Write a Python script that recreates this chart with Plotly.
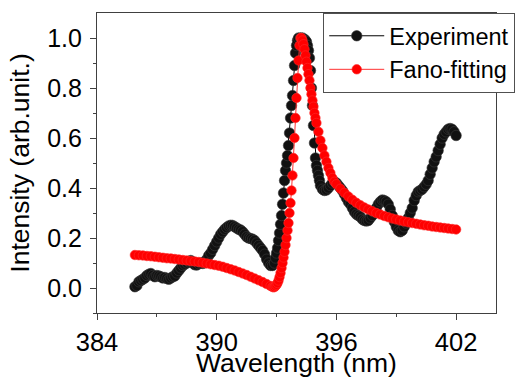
import plotly.graph_objects as go

# Experiment (wavelength nm, normalized intensity)
exp_x = [385.9, 386.0, 386.1, 386.2, 386.3, 386.4, 386.5, 386.6, 386.7, 386.8, 386.9,
         387.0, 387.1, 387.2, 387.3, 387.4, 387.5, 387.6, 387.7, 387.8, 387.9,
         388.0, 388.1, 388.2, 388.3, 388.4, 388.5, 388.6, 388.7, 388.8, 388.9,
         389.0, 389.1, 389.2, 389.3, 389.4, 389.5, 389.6, 389.7, 389.8, 389.9,
         390.0, 390.1, 390.2, 390.3, 390.4, 390.5, 390.6, 390.7, 390.8, 390.9,
         391.0, 391.1, 391.2, 391.3, 391.4, 391.5, 391.6, 391.7, 391.8, 391.9,
         392.0, 392.1, 392.2, 392.3, 392.4, 392.5, 392.6, 392.7, 392.8, 392.9,
         392.95, 393.0, 393.05, 393.1, 393.15, 393.2, 393.25, 393.3, 393.35, 393.4,
         393.45, 393.5, 393.55, 393.6, 393.65, 393.7, 393.75, 393.8, 393.85, 393.9,
         393.95, 394.0, 394.05, 394.1, 394.2, 394.3, 394.4, 394.45, 394.5, 394.55,
         394.6, 394.65, 394.7, 394.75, 394.8, 394.85, 394.9, 394.95, 395.0, 395.05,
         395.1, 395.15, 395.2, 395.3, 395.4, 395.5, 395.6, 395.7, 395.8, 395.9,
         396.0, 396.1, 396.2, 396.3, 396.4, 396.5, 396.6, 396.7, 396.8, 396.9,
         397.0, 397.1, 397.2, 397.3, 397.4, 397.5, 397.6, 397.7, 397.8, 397.9,
         398.0, 398.1, 398.2, 398.3, 398.4, 398.5, 398.6, 398.7, 398.8, 398.9,
         399.0, 399.1, 399.2, 399.3, 399.4, 399.5, 399.6, 399.7, 399.8, 399.9,
         400.0, 400.1, 400.2, 400.3, 400.4, 400.5, 400.6, 400.7, 400.8, 400.9,
         401.0, 401.1, 401.2, 401.3, 401.4, 401.5, 401.6, 401.7, 401.8, 401.9, 402.0]
exp_y = [0.005, 0.010, 0.025, 0.030, 0.035, 0.040, 0.050, 0.055, 0.058, 0.050, 0.045,
         0.050, 0.048, 0.045, 0.040, 0.042, 0.038, 0.035, 0.040, 0.045, 0.048,
         0.060, 0.070, 0.080, 0.090, 0.095, 0.100, 0.105, 0.110, 0.100, 0.093,
         0.092, 0.097, 0.100, 0.098, 0.105, 0.115, 0.130, 0.140, 0.155, 0.170,
         0.185, 0.200, 0.215, 0.225, 0.235, 0.242, 0.248, 0.251, 0.250, 0.245,
         0.240, 0.235, 0.232, 0.225, 0.215, 0.205, 0.200, 0.198, 0.195, 0.190,
         0.180, 0.170, 0.160, 0.150, 0.135, 0.115, 0.100, 0.090, 0.090, 0.100,
         0.120, 0.140, 0.160, 0.190, 0.220, 0.255, 0.290, 0.335, 0.380, 0.430,
         0.470, 0.500, 0.530, 0.570, 0.620, 0.680, 0.730, 0.770, 0.830, 0.890,
         0.940, 0.970, 0.990, 1.000, 1.000, 1.000, 0.995, 0.990, 0.985, 0.970,
         0.950, 0.920, 0.870, 0.800, 0.730, 0.650, 0.580, 0.520, 0.490, 0.470,
         0.450, 0.430, 0.410, 0.395, 0.390, 0.392, 0.400, 0.410, 0.420, 0.425,
         0.420, 0.410, 0.400, 0.390, 0.375, 0.360, 0.345, 0.335, 0.320, 0.305,
         0.295, 0.290, 0.285, 0.275, 0.270, 0.268, 0.270, 0.280, 0.290, 0.305,
         0.320, 0.335, 0.345, 0.352, 0.350, 0.345, 0.335, 0.315, 0.290, 0.265,
         0.245, 0.230, 0.225, 0.230, 0.245, 0.260, 0.280, 0.300, 0.320, 0.350,
         0.370, 0.385, 0.390, 0.395, 0.405, 0.415, 0.430, 0.455, 0.480, 0.505,
         0.525, 0.550, 0.575, 0.600, 0.615, 0.625, 0.635, 0.638, 0.635, 0.625, 0.610]

# Fano fitting
fit_x = [385.9, 386.1, 386.3, 386.5, 386.7, 386.9, 387.1, 387.3, 387.5, 387.7, 387.9,
         388.1, 388.3, 388.5, 388.7, 388.9, 389.1, 389.3, 389.5, 389.7, 389.9,
         390.1, 390.3, 390.5, 390.7, 390.9, 391.1, 391.3, 391.5, 391.7, 391.9,
         392.1, 392.3, 392.5, 392.7, 392.8, 392.85, 392.9, 392.95, 393.0, 393.05,
         393.1, 393.15, 393.2, 393.25, 393.3, 393.35, 393.4, 393.45, 393.5, 393.55,
         393.6, 393.65, 393.7, 393.75, 393.8, 393.85, 393.9, 393.95, 394.0, 394.05,
         394.1, 394.15, 394.2, 394.25, 394.3, 394.35, 394.4, 394.45, 394.5, 394.55,
         394.6, 394.65, 394.7, 394.75, 394.8, 394.85, 394.9, 394.95, 395.0, 395.1,
         395.2, 395.3, 395.4, 395.5, 395.6, 395.7, 395.8, 395.9, 396.0, 396.2,
         396.4, 396.6, 396.8, 397.0, 397.2, 397.4, 397.6, 397.8, 398.0, 398.2,
         398.4, 398.6, 398.8, 399.0, 399.2, 399.4, 399.6, 399.8, 400.0, 400.2,
         400.4, 400.6, 400.8, 401.0, 401.2, 401.4, 401.6, 401.8, 402.0]
fit_y = [0.132, 0.131, 0.130, 0.128, 0.127, 0.125, 0.123, 0.121, 0.119, 0.118, 0.116,
         0.114, 0.112, 0.110, 0.108, 0.106, 0.104, 0.101, 0.098, 0.095, 0.092,
         0.089, 0.085, 0.080, 0.075, 0.070, 0.064, 0.058, 0.052, 0.045, 0.038,
         0.031, 0.024, 0.016, 0.008, 0.004, 0.003, 0.004, 0.008, 0.013, 0.020,
         0.030, 0.044, 0.060, 0.080, 0.100, 0.122, 0.145, 0.172, 0.200, 0.230,
         0.260, 0.300, 0.340, 0.390, 0.450, 0.520, 0.600, 0.680, 0.760, 0.840,
         0.910, 0.970, 1.000, 1.000, 0.990, 0.975, 0.955, 0.930, 0.905, 0.880,
         0.855, 0.830, 0.800, 0.775, 0.750, 0.725, 0.700, 0.680, 0.660, 0.625,
         0.590, 0.560, 0.530, 0.505, 0.480, 0.460, 0.440, 0.425, 0.415, 0.397,
         0.381, 0.366, 0.353, 0.341, 0.331, 0.322, 0.314, 0.307, 0.300, 0.294,
         0.288, 0.283, 0.278, 0.274, 0.270, 0.266, 0.263, 0.260, 0.257, 0.254,
         0.251, 0.249, 0.246, 0.244, 0.242, 0.240, 0.238, 0.236, 0.234]

x_ticks = [384, 390, 396, 402]
y_ticks = [0.0, 0.2, 0.4, 0.6, 0.8, 1.0]
y_tick_labels = ["0.0", "0.2", "0.4", "0.6", "0.8", "1.0"]

FONT = "Liberation Sans, Arial, sans-serif"

fig = go.Figure()
fig.add_trace(go.Scatter(
    x=exp_x, y=exp_y, mode="lines+markers", name="Experiment",
    line=dict(color="black", width=1),
    marker=dict(symbol="circle", size=10.5, color="#111111",
                line=dict(color="#3a3a3a", width=0.6)),
))
fig.add_trace(go.Scatter(
    x=fit_x, y=fit_y, mode="lines+markers", name="Fano-fitting",
    line=dict(color="#ff3030", width=1),
    marker=dict(symbol="circle", size=9.5, color="#ff0000",
                line=dict(color="#ff2a2a", width=0.6)),
))

axis_common = dict(
    showline=True, linecolor="#404040", linewidth=1.2, mirror=True,
    ticks="outside", ticklen=6, tickwidth=1.2, tickcolor="#404040",
    showgrid=False, zeroline=False, automargin=False,
)

fig.update_xaxes(
    range=[384, 404], tickmode="array", tickvals=x_ticks,
    ticktext=[str(t) for t in x_ticks],
    tickfont=dict(family=FONT, size=25.5, color="black"),
    minor=dict(tickmode="array", tickvals=[387, 393, 399], ticks="outside",
               ticklen=3, tickwidth=1.2, tickcolor="#404040"),
    title=dict(text="Wavelength (nm)", font=dict(family=FONT, size=26.5, color="black"),
               standoff=4),
    **axis_common,
)
fig.update_yaxes(
    range=[-0.1, 1.1], tickmode="array", tickvals=y_ticks, ticktext=y_tick_labels,
    tickfont=dict(family=FONT, size=25, color="black"),
    ticklabelstandoff=3,
    minor=dict(tickmode="array", tickvals=[-0.1, 0.1, 0.3, 0.5, 0.7, 0.9], ticks="outside",
               ticklen=3, tickwidth=1.2, tickcolor="#404040"),
    title=dict(text="Intensity (arb.unit.)", font=dict(family=FONT, size=26.5, color="black"),
               standoff=9),
    **axis_common,
)

fig.update_layout(
    width=527, height=378,
    margin=dict(l=97, r=28, t=13, b=65),
    paper_bgcolor="white", plot_bgcolor="white",
    showlegend=True,
    legend=dict(
        x=0.567, y=1.0, xanchor="left", yanchor="top",
        bgcolor="white", bordercolor="#505050", borderwidth=1,
        font=dict(family=FONT, size=23.5, color="black"),
        itemwidth=55, tracegroupgap=0,
    ),
)

fig.write_html("out.html", config={"displayModeBar": False},
               post_script="document.body.style.margin='0';document.body.style.overflow='hidden';")
